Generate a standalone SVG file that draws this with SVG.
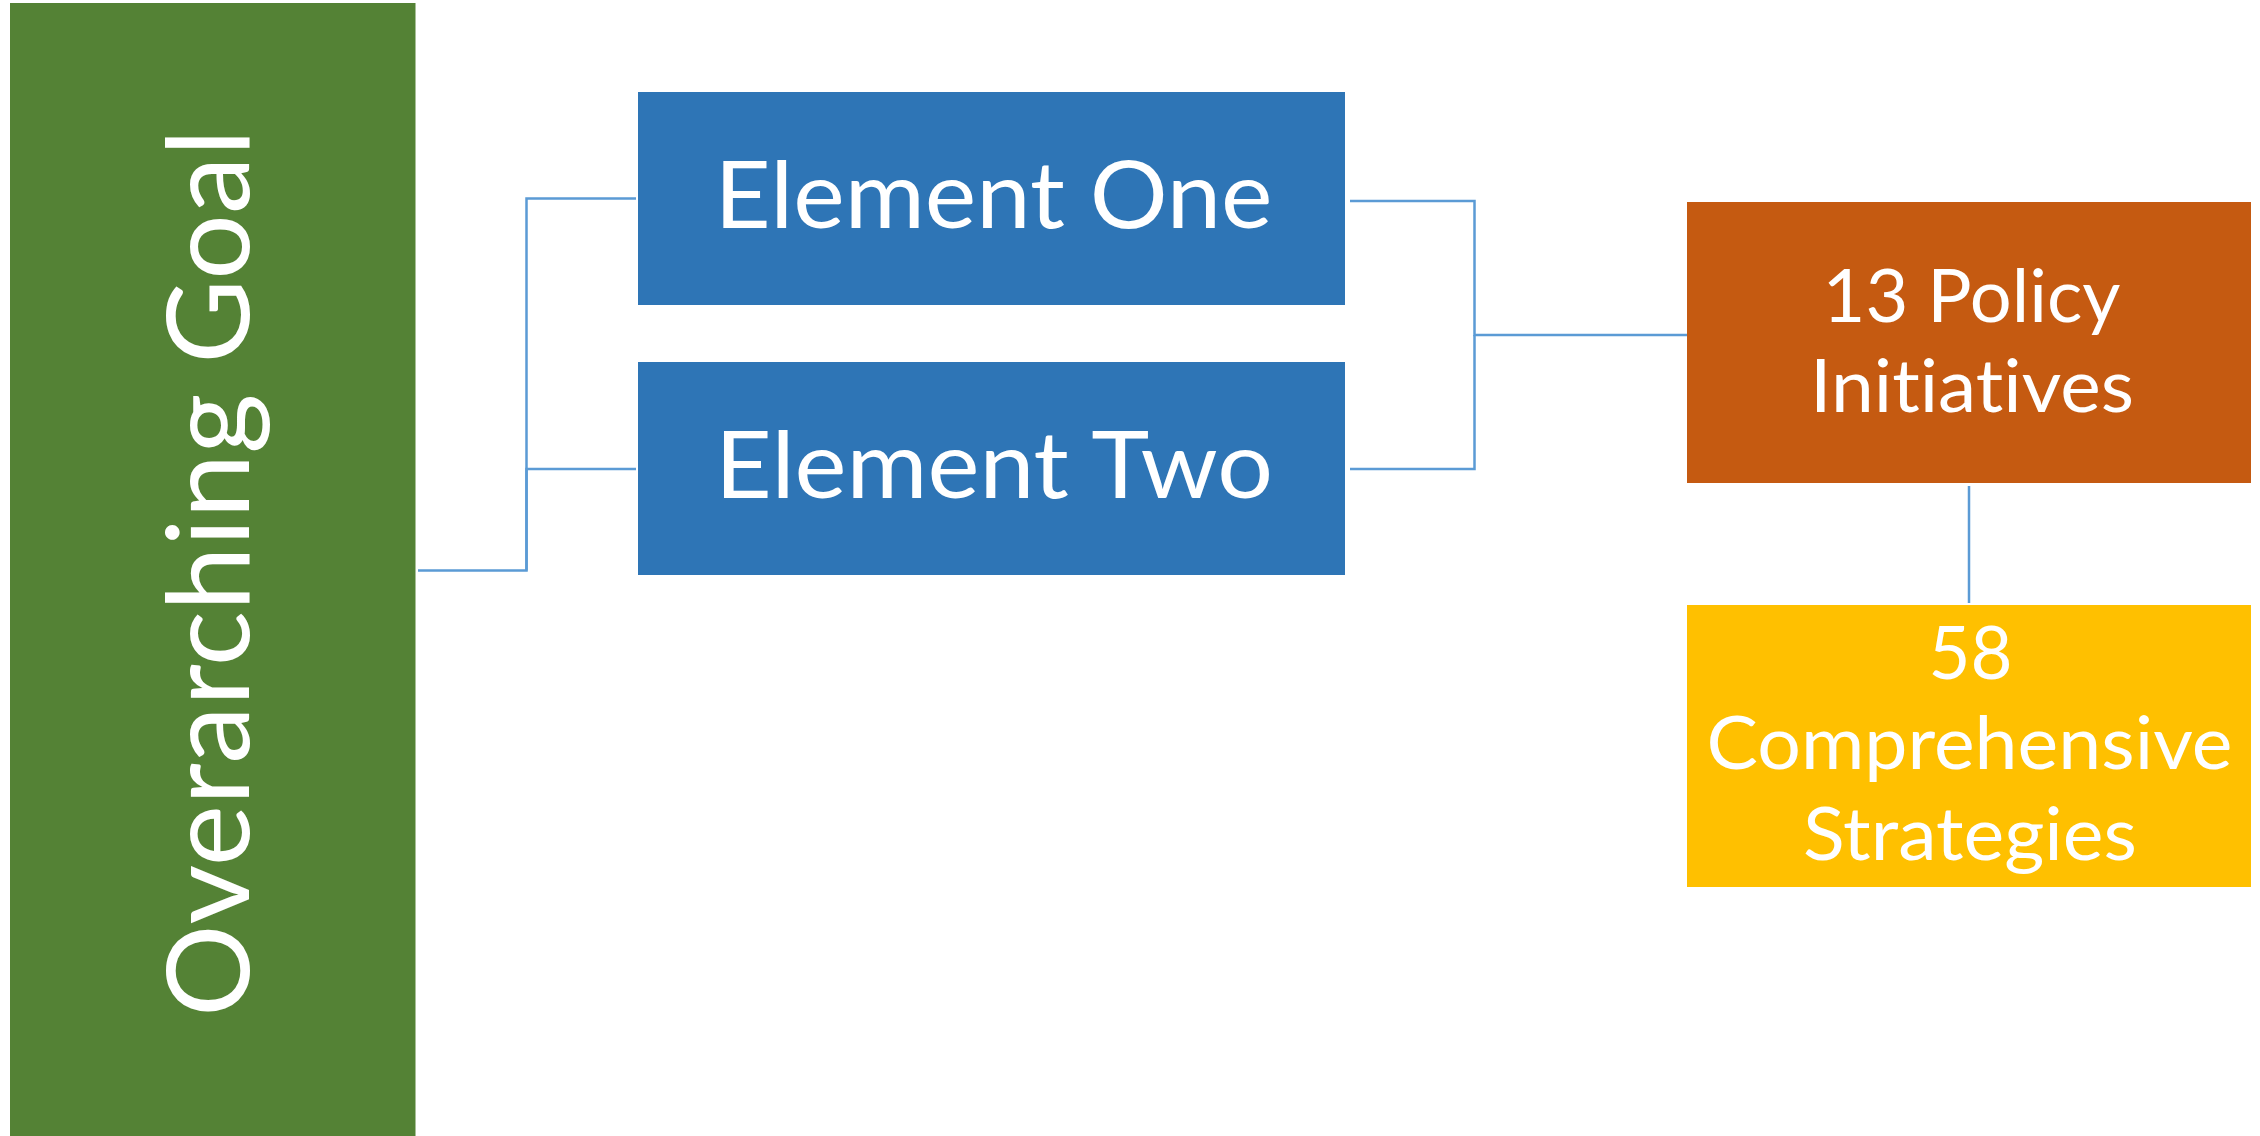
<svg xmlns="http://www.w3.org/2000/svg" width="2260" height="1136" viewBox="0 0 2260 1136">
  <style>
    .lbl { font-family: Lato, "Open Sans", "Liberation Sans", sans-serif; fill: #FFFFFF; text-anchor: middle; font-variant-ligatures: none; font-feature-settings: "liga" 0, "clig" 0, "dlig" 0; }
    .conn { fill: none; stroke: #5B9BD5; stroke-width: 2.5; }
  </style>
  <rect x="0" y="0" width="2260" height="1136" fill="#FFFFFF"/>
  <g id="connectors">
    <path class="conn" d="M418,570.5 H526.5 V198.5 H636"/>
    <path class="conn" d="M526.5,570.5 V469 H636"/>
    <path class="conn" d="M1350,201 H1474.5 V335 H1692"/>
    <path class="conn" d="M1350,469 H1474.5 V335"/>
    <path class="conn" d="M1969,486 V603"/>
  </g>
  <g id="node-goal">
    <rect x="10" y="3" width="405.5" height="1133" fill="#548235"/>
    <text class="lbl" transform="translate(249,573) rotate(-90)" x="0" y="0" font-size="114" textLength="888" lengthAdjust="spacingAndGlyphs">Overarching Goal</text>
  </g>
  <g id="node-element-one">
    <rect x="638" y="92" width="707" height="213" fill="#2E75B6"/>
    <text class="lbl" x="993.5" y="228.3" font-size="94" textLength="558" lengthAdjust="spacingAndGlyphs">Element One</text>
  </g>
  <g id="node-element-two">
    <rect x="638" y="362" width="707" height="213" fill="#2E75B6"/>
    <text class="lbl" x="994" y="498.3" font-size="94" textLength="558" lengthAdjust="spacingAndGlyphs">Element Two</text>
  </g>
  <g id="node-policy">
    <rect x="1687" y="202" width="564" height="281" fill="#C55A11"/>
    <text class="lbl" x="1971.5" y="321.5" font-size="74" textLength="298" lengthAdjust="spacingAndGlyphs">13 Policy</text>
    <text class="lbl" x="1972" y="411.5" font-size="74" textLength="324" lengthAdjust="spacingAndGlyphs">Initiatives</text>
  </g>
  <g id="node-strategies">
    <rect x="1687" y="605" width="564" height="282" fill="#FFC000"/>
    <text class="lbl" x="1970.5" y="679" font-size="74" textLength="84" lengthAdjust="spacingAndGlyphs">58</text>
    <text class="lbl" x="1969.5" y="769" font-size="74" textLength="526" lengthAdjust="spacingAndGlyphs">Comprehensive</text>
    <text class="lbl" x="1970" y="860" font-size="74" textLength="334" lengthAdjust="spacingAndGlyphs">Strategies</text>
  </g>
</svg>
